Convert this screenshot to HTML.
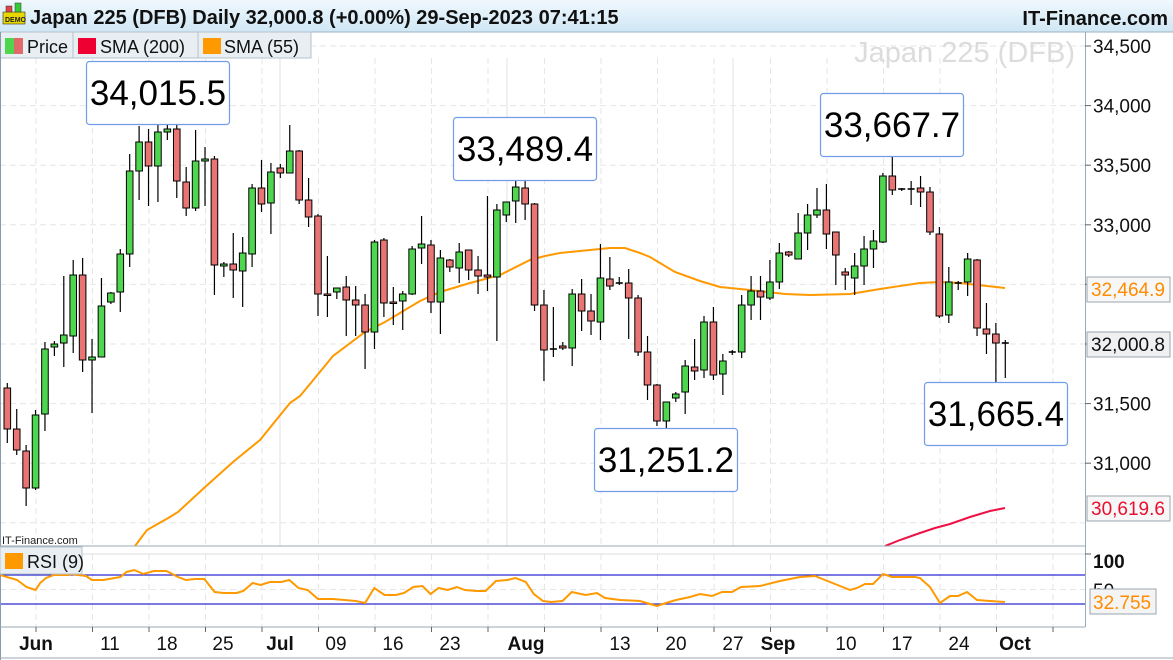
<!DOCTYPE html>
<html><head><meta charset="utf-8">
<style>
html,body{margin:0;padding:0;background:#fff;}
body{width:1173px;height:660px;overflow:hidden;position:relative;font-family:"Liberation Sans",sans-serif;}
svg{position:absolute;left:0;top:0;}
</style></head>
<body>
<svg id="s" width="1173" height="660" xmlns="http://www.w3.org/2000/svg" font-family="Liberation Sans, sans-serif">
<defs>
<linearGradient id="tb" x1="0" y1="0" x2="0" y2="1"><stop offset="0" stop-color="#f0f8fd"/><stop offset="1" stop-color="#cfe7f5"/></linearGradient>
</defs>
<rect x="0" y="0" width="1173" height="660" fill="#fff"/>
<g id="grid"></g>
<text x="1075" y="62" text-anchor="end" font-size="29" fill="#dcdcdc">Japan 225 (DFB)</text>
<g id="sma"></g>
<g id="candles"></g>
<g id="rsi"></g>
<g id="ann"></g>
<g id="frame"></g>
</svg>
<script>
const S=document.getElementById('s');
function el(t,a,p){const e=document.createElementNS('http://www.w3.org/2000/svg',t);for(const k in a)e.setAttribute(k,a[k]);(p||S).appendChild(e);return e;}
function tx(x,y,s,a,p){const e=el('text',Object.assign({x:x,y:y},a),p);e.textContent=s;return e;}
const G=document.getElementById('grid');
// horizontal grid
for(let v=34500;v>=30500;v-=500){const y=46+(34500-v)*0.1192;el('line',{x1:0,x2:1085,y1:y,y2:y,stroke:'#e6e6e6','stroke-dasharray':'6,4'},G);}
// vertical grid
const vx=[];for(let x=36;x<1085;x+=56.5)vx.push(x);
vx.forEach(x=>{el('line',{x1:x,x2:x,y1:58,y2:546,stroke:'#e6e6e6','stroke-dasharray':'6,4'},G);el('line',{x1:x,x2:x,y1:554,y2:627,stroke:'#e6e6e6','stroke-dasharray':'6,4'},G);});
[280,507,733].forEach(x=>{el('line',{x1:x,x2:x,y1:58,y2:546,stroke:'#e2e2e2'},G);});
// RSI lines
el('line',{x1:0,x2:1085,y1:554,y2:554,stroke:'#ddd'},G);
el('line',{x1:0,x2:1085,y1:589.5,y2:589.5,stroke:'#e6e6e6','stroke-dasharray':'6,4'},G);
el('line',{x1:0,x2:1085,y1:575,y2:575,stroke:'#2b2bd0','stroke-width':1.2},G);
el('line',{x1:0,x2:1085,y1:604,y2:604,stroke:'#2b2bd0','stroke-width':1.2},G);

// SMA
const SM=document.getElementById('sma');
const s55=[[135,546],[147,530],[170,517],[178,512],[204,488],[233,462],[260,440],[290,403],[300,396],[310,384],[333,356],[365,332],[385,322],[420,301],[440,292],[470,283],[500,275],[530,260],[545,256],[560,253],[590,250],[610,248],[625,248],[640,253],[650,257],[675,272],[700,281],[720,287],[750,290],[785,294],[810,295],[850,294],[880,289],[920,283],[940,282],[960,283],[1005,288]];
el('polyline',{points:s55.map(p=>p.join(',')).join(' '),fill:'none',stroke:'#ff9900','stroke-width':2},SM);
const s200=[[885,546],[900,540],[920,533],[935,528],[950,524],[970,517],[990,511],[1005,508]];
el('polyline',{points:s200.map(p=>p.join(',')).join(' '),fill:'none',stroke:'#ee1144','stroke-width':2},SM);

// candles [open,close,high,low] in pixel y
const C=[[388,429,383,443],[429,450,409,455],[451,488,445,506],[488,415,410,490],[414,349,342,431],[347,344,341,356],[343,335,276,367],[336,275,260,353],[275,360,258,372],[360,357,339,413],
[357,306,278,357],[302,293,292,304],[292,254,249,312],[254,171,154,267],[171,142,126,200],[142,166,129,206],[166,132,105,202],[132,129,124,140],[129,181,121,198],[182,208,167,216],
[208,161,130,211],[161,159,147,206],[159,265,156,295],[266,264,262,277],[264,270,233,298],[271,253,237,307],[254,188,184,267],[188,204,160,212],[203,172,163,234],[168,173,164,178],
[173,151,125,173],[151,200,150,204],[200,217,178,227],[216,294,214,316],[294,295,256,317],[292,288,288,299],[287,300,276,336],[300,305,286,336],[305,332,294,369],[332,242,240,349],
[240,303,238,317],[302,303,287,325],[301,294,291,330],[294,249,246,295],[248,244,216,264],[245,302,240,313],[302,258,250,334],[260,267,259,272],[268,252,243,283],[250,270,250,280],
[270,276,256,294],[275,277,196,291],[277,210,204,341],[215,202,202,222],[201,187,176,223],[188,204,166,220],[204,305,203,311],[305,350,290,381],[349,349,307,357],[346,348,342,350],
[348,294,289,366],[294,311,279,331],[311,321,294,335],[322,278,244,340],[279,286,257,290],[283,283,277,285],[283,298,269,339],[298,352,295,356],[352,385,336,400],[385,421,384,426],
[421,402,402,433],[398,394,392,402],[392,366,360,414],[367,371,339,380],[370,322,316,378],[322,375,307,380],[374,361,354,395],[352,352,350,355],[352,305,295,358],[305,291,276,320],
[291,297,276,320],[298,282,260,300],[282,253,243,289],[252,255,251,257],[259,233,213,259],[233,215,204,250],[215,210,188,218],[210,234,184,249],[232,255,232,285],[272,275,268,290],
[278,266,253,295],[266,249,236,285],[249,241,230,268],[242,176,173,243],[176,190,145,195],[189,189,188,191],[189,189,181,205],[188,192,176,207],[192,232,187,235],[234,316,227,318],
[315,282,267,323],[283,283,281,290],[282,259,253,296],[260,328,259,336],[329,334,303,354],[334,343,323,383],[343,343,340,378]];
const CG=document.getElementById('candles');
C.forEach((c,i)=>{const x=7.3+i*9.415;const [o,cl,h,l]=c;
 el('line',{x1:x,x2:x,y1:h,y2:l,stroke:'#000','stroke-width':1.2},CG);
 const top=Math.min(o,cl),bh=Math.max(Math.abs(o-cl),1.5);
 const col=cl<o?'#4fd64f':(cl>o?'#e87474':'#000');
 if(Math.abs(o-cl)<1){el('line',{x1:x-3.5,x2:x+3.5,y1:o,y2:o,stroke:'#000','stroke-width':1.6},CG);}
 else el('rect',{x:x-3.3,y:top,width:6.6,height:bh,fill:col,stroke:'#000','stroke-width':1},CG);
});

// RSI
const R=document.getElementById('rsi');
const r1=[[0,575],[15,580],[23,587],[31,590],[35,583],[40,578],[47,575],[60,575],[62,574],[68,575],[75,576],[80,580],[90,580],[95,579],[105,577],[110,572],[117,570],[125,574],[134,571],[145,571],[155,577],[162,580],[170,579],[178,579],[187,592],[195,593],[206,593],[212,591],[220,583],[227,585],[235,582],[245,582],[252,580],[260,588],[268,590],[277,599],[290,599],[300,600],[310,601],[318,603],[326,588],[335,595],[345,595],[352,593],[360,587],[368,586],[375,594],[382,588],[390,590],[398,587],[405,590],[415,591],[423,591],[432,581],[442,580],[449,578],[458,582],[465,594],[473,601],[480,602],[490,601],[498,592],[510,595],[520,593]].map(p=>[p[0]*1.148,p[1]]);
const r2=[[605,598],[620,600],[640,601],[650,604],[657,606],[666,603],[676,600],[690,597],[700,594],[712,596],[722,592],[732,592],[741,587],[760,586],[780,581],[800,577],[815,576],[825,580],[840,586],[850,590],[857,588],[865,584],[873,584],[883,574],[892,577],[915,577],[920,578],[930,587],[940,603],[950,596],[958,596],[967,592],[977,600],[990,601],[1005,602]];
const rp=r1.concat(r2);
el('polyline',{points:rp.map(p=>p.join(',')).join(' '),fill:'none',stroke:'#ff9900','stroke-width':2},R);

// annotations
const A=document.getElementById('ann');
[[86,61,'34,015.5'],[453,117,'33,489.4'],[820,93,'33,667.7'],[594,428,'31,251.2'],[924,382,'31,665.4']].forEach(b=>{
 el('rect',{x:b[0]+.5,y:b[1]+.5,width:143,height:63,rx:3,fill:'#fff',stroke:'#6f9de8','stroke-width':1.2},A);
 tx(b[0]+72,b[1]+44,b[2],{'font-size':35,'text-anchor':'middle',fill:'#000'},A);
});

// frame & axes
const F=document.getElementById('frame');
el('rect',{x:0,y:0,width:1173,height:32,fill:'url(#tb)'},F);
el('line',{x1:0,x2:1173,y1:32,y2:32,stroke:'#9fb2c0'},F);
// demo icon
el('rect',{x:3,y:12,width:22,height:12,fill:'#e8d800',stroke:'#333','stroke-width':.6},F);
el('rect',{x:6,y:6,width:6,height:6,fill:'#d44',stroke:'#333','stroke-width':.5},F);
el('rect',{x:15,y:3,width:6,height:9,fill:'#3c3',stroke:'#333','stroke-width':.5},F);
tx(5,22,'DEMO',{'font-size':7,'font-weight':'bold',fill:'#222'},F);
tx(30,24,'Japan 225 (DFB) Daily 32,000.8 (+0.00%) 29-Sep-2023 07:41:15',{'font-size':20,'font-weight':'bold',fill:'#111'},F);
tx(1168,25,'IT-Finance.com',{'font-size':20,'font-weight':'bold',fill:'#111','text-anchor':'end'},F);
// legend
el('rect',{x:0,y:32,width:311,height:26,fill:'#e8eef2',stroke:'#b6c2cb'},F);
el('line',{x1:73,x2:73,y1:32,y2:58,stroke:'#b6c2cb'},F);
el('line',{x1:198,x2:198,y1:32,y2:58,stroke:'#b6c2cb'},F);
el('rect',{x:5,y:38,width:9,height:16,fill:'#4fd64f'},F);el('rect',{x:14,y:38,width:9,height:16,fill:'#e06a6a'},F);
tx(27,53,'Price',{'font-size':18,fill:'#111'},F);
el('rect',{x:78,y:38,width:18,height:16,fill:'#ee0033'},F);tx(100,53,'SMA (200)',{'font-size':18,fill:'#111'},F);
el('rect',{x:203,y:38,width:18,height:16,fill:'#ff9900'},F);tx(224,53,'SMA (55)',{'font-size':18,fill:'#111'},F);
// left border, axis lines
el('line',{x1:.5,x2:.5,y1:32,y2:660,stroke:'#8a9aa8'},F);
el('line',{x1:1085.5,x2:1085.5,y1:32,y2:627,stroke:'#9aaab6'},F);
el('line',{x1:0,x2:1085,y1:546,y2:546,stroke:'#9aaab6'},F);
el('line',{x1:0,x2:1085,y1:627,y2:627,stroke:'#9aaab6'},F);
el('line',{x1:0,x2:1173,y1:658,y2:658,stroke:'#9aaab6'},F);
tx(2,544,'IT-Finance.com',{'font-size':11,fill:'#222'},F);
// RSI legend
el('rect',{x:0,y:547,width:82,height:27,fill:'#e8eef2',stroke:'#b6c2cb'},F);
el('rect',{x:5,y:553,width:18,height:16,fill:'#ff9900'},F);tx(27,568,'RSI (9)',{'font-size':18,fill:'#111'},F);
// price axis labels
for(let v=34500;v>=31000;v-=500){const y=46+(34500-v)*0.1192;el('line',{x1:1085,x2:1091,y1:y,y2:y,stroke:'#666'},F);tx(1093,y+7,v.toLocaleString('en-US'),{'font-size':19,fill:'#111'},F);}
function tag(y,s,col,bg,bw){el('rect',{x:1087,y:y-12,width:bw||83,height:25,fill:bg,stroke:'#9aa4ad'},F);tx(1091,y+7,s,{'font-size':19,fill:col},F);}
tag(289,'32,464.9','#ff8c00','#f7f7f7');
tag(344,'32,000.8','#111','#eef0f2');
tag(508,'30,619.6','#e8102f','#f7f7f7');
// RSI axis
el('line',{x1:1085,x2:1091,y1:554,y2:554,stroke:'#666'},F);
tx(1093,568,'100',{'font-size':19,'font-weight':'bold',fill:'#111'},F);
tx(1093,597,'50',{'font-size':19,fill:'#111'},F);
el('rect',{x:1090,y:589,width:66,height:25,fill:'#f4f4f4',stroke:'#9aa4ad'},F);
tx(1093,609,'32.755',{'font-size':19,fill:'#ff8c00'},F);
// date axis
const D=[[36,'Jun',1],[110,'11'],[167,'18'],[223,'25'],[280,'Jul',1],[336,'09'],[393,'16'],[450,'23'],[526,'Aug',1],[620,'13'],[676,'20'],[733,'27'],[778,'Sep',1],[846,'10'],[902,'17'],[959,'24'],[1015,'Oct',1]];
vx.forEach(x=>el('line',{x1:x,x2:x,y1:627,y2:632,stroke:'#666'},F));
D.forEach(d=>tx(d[0],650,d[1],{'font-size':19,'text-anchor':'middle',fill:'#111','font-weight':d[2]?'bold':'normal'},F));
</script>
</body></html>
